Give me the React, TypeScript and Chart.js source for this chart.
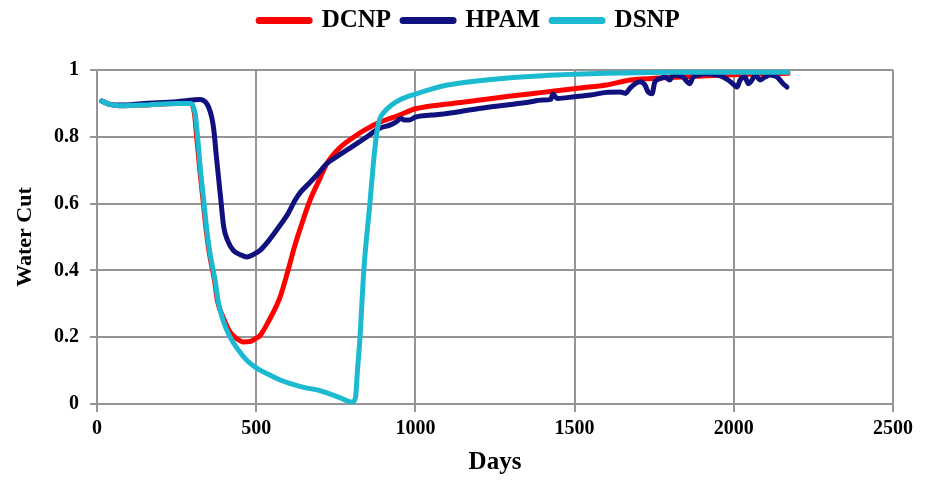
import React, { useEffect, useRef } from "react";
import { Chart, registerables } from "chart.js";

Chart.register(...registerables);

const FONT = "'Liberation Serif', 'Times New Roman', serif";

const seriesNames = ["DCNP", "HPAM", "DSNP"];
const seriesColors = ["#ff0000", "#10107f", "#1bbad1"];

const xTickLabels = ["0", "500", "1000", "1500", "2000", "2500"];
const yTickLabels = ["0", "0.2", "0.4", "0.6", "0.8", "1"];

const dcnpDays = [15, 40, 70, 150, 250, 295, 306, 313, 323, 333, 343, 353, 369, 378, 396, 418, 440, 458, 480, 500, 512, 540, 575, 600, 620, 640, 669, 700, 722, 760, 800, 840, 889, 950, 1000, 1100, 1203, 1300, 1400, 1517, 1600, 1674, 1750, 1850, 1950, 2050, 2170];
const dcnpCut = [0.907, 0.897, 0.893, 0.895, 0.9, 0.9, 0.87, 0.8, 0.7, 0.61, 0.52, 0.45, 0.37, 0.31, 0.26, 0.215, 0.195, 0.186, 0.187, 0.197, 0.205, 0.25, 0.32, 0.4, 0.47, 0.53, 0.61, 0.675, 0.72, 0.765, 0.795, 0.82, 0.844, 0.865, 0.884, 0.898, 0.91, 0.922, 0.933, 0.946, 0.955, 0.97, 0.975, 0.98, 0.984, 0.987, 0.99];

const hpamDays = [15, 40, 70, 150, 250, 300, 325, 340, 350, 360, 367, 375, 388, 398, 410, 428, 450, 471, 490, 512, 540, 575, 600, 622, 640, 660, 690, 722, 760, 800, 840, 889, 920, 940, 955, 965, 980, 1000, 1050, 1100, 1200, 1300, 1350, 1400, 1425, 1432, 1445, 1500, 1550, 1600, 1643, 1660, 1674, 1705, 1721, 1731, 1743, 1752, 1768, 1784, 1799, 1809, 1840, 1862, 1872, 1888, 1916, 1947, 1966, 1982, 1997, 2010, 2020, 2035, 2045, 2057, 2067, 2082, 2098, 2114, 2136, 2155, 2167];
const hpamCut = [0.907, 0.897, 0.895, 0.9, 0.905, 0.91, 0.912, 0.905, 0.89, 0.86, 0.82, 0.74, 0.62, 0.53, 0.49, 0.46, 0.447, 0.44, 0.447, 0.46, 0.49, 0.535, 0.57, 0.61, 0.635, 0.655, 0.685, 0.72, 0.745, 0.77, 0.795, 0.826, 0.835, 0.845, 0.855, 0.85, 0.85, 0.859, 0.865, 0.87, 0.885, 0.897, 0.903, 0.91, 0.912, 0.928, 0.915, 0.92, 0.925, 0.933, 0.934, 0.93, 0.946, 0.965, 0.955, 0.934, 0.929, 0.964, 0.974, 0.979, 0.97, 0.985, 0.979, 0.959, 0.979, 0.985, 0.989, 0.985, 0.979, 0.97, 0.959, 0.949, 0.97, 0.979, 0.959, 0.97, 0.985, 0.97, 0.979, 0.985, 0.979, 0.959, 0.949];

const dsnpDays = [15, 40, 70, 150, 250, 295, 308, 315, 325, 335, 345, 355, 371, 380, 396, 418, 445, 471, 500, 540, 575, 640, 700, 722, 765, 790, 802, 812, 818, 826, 838, 857, 868, 877, 887, 900, 925, 950, 1000, 1050, 1100, 1200, 1300, 1400, 1500, 1600, 1700, 1800, 1900, 2000, 2100, 2170];
const dsnpCut = [0.907, 0.897, 0.893, 0.895, 0.9, 0.9, 0.87, 0.81, 0.7, 0.61, 0.52, 0.45, 0.37, 0.31, 0.25, 0.2, 0.16, 0.13, 0.108, 0.088, 0.072, 0.052, 0.04, 0.033, 0.018, 0.008, 0.006, 0.02, 0.1, 0.2, 0.4, 0.6, 0.72, 0.8, 0.85, 0.872, 0.895, 0.91, 0.928, 0.943, 0.955, 0.968, 0.977, 0.983, 0.987, 0.99, 0.992, 0.993, 0.993, 0.993, 0.993, 0.993];

const GRID = "#959595";

export default function App() {
  const ref = useRef<HTMLCanvasElement>(null);

  useEffect(() => {
    const pts = (xs: number[], ys: number[]) => xs.map((x, i) => ({ x, y: ys[i] }));
    const all = [
      pts(dcnpDays, dcnpCut),
      pts(hpamDays, hpamCut),
      pts(dsnpDays, dsnpCut),
    ];
    const orders = [2, 1, 0];
    const chart = new Chart(ref.current as HTMLCanvasElement, {
      type: "line",
      data: {
        datasets: all.map((d, i) => ({
          label: seriesNames[i],
          data: d,
          borderColor: seriesColors[i],
          backgroundColor: seriesColors[i],
          borderWidth: 5,
          pointRadius: 0,
          pointHoverRadius: 0,
          cubicInterpolationMode: "monotone",
          borderCapStyle: "round",
          borderJoinStyle: "round",
          order: orders[i],
          clip: 4,
        })),
      },
      options: {
        responsive: false,
        animation: false,
        devicePixelRatio: 1,
        layout: { padding: { top: -4, left: 46, right: 37, bottom: 0 } },
        plugins: {
          tooltip: { enabled: false },
          legend: {
            position: "top",
            labels: {
              usePointStyle: true,
              pointStyle: "line",
              pointStyleWidth: 50,
              padding: 12,
              color: "#000",
              font: { family: FONT, size: 25, weight: "bold" },
              sort: (a: any, b: any) => a.datasetIndex - b.datasetIndex,
              generateLabels: (c: any) =>
                (Chart.defaults.plugins.legend.labels as any)
                  .generateLabels(c)
                  .map((it: any) => ({ ...it, lineWidth: 7, lineCap: "round", pointStyle: "line" })),
            },
          },
          title: {
            display: true,
            text: " ",
            weight: 500,
            font: { size: 10 },
            padding: { top: 0, bottom: 15 },
          } as any,
        },
        scales: {
          x: {
            type: "linear",
            min: 0,
            max: 2500,
            afterFit: (s: any) => {
              s.height = 79;
            },
            ticks: {
              stepSize: 500,
              color: "#000",
              padding: 5,
              font: { family: FONT, size: 20, weight: "bold" },
              callback: (_v: any, i: number) => xTickLabels[i],
            },
            grid: { color: GRID, lineWidth: 2, tickLength: 8 },
            border: { color: GRID, width: 2 },
            title: {
              display: true,
              text: "Days",
              color: "#000",
              font: { family: FONT, size: 25, weight: "bold" },
              padding: { top: 0, bottom: 5 },
            },
          },
          y: {
            type: "linear",
            min: 0,
            max: 1,
            afterFit: (s: any) => {
              s.width = 51;
            },
            ticks: {
              stepSize: 0.2,
              color: "#000",
              padding: 11,
              font: { family: FONT, size: 20, weight: "bold" },
              callback: (_v: any, i: number) => yTickLabels[i],
            },
            grid: { color: GRID, lineWidth: 2, tickLength: 7 },
            border: { color: GRID, width: 2 },
            title: {
              display: true,
              text: "Water Cut",
              color: "#000",
              font: { family: FONT, size: 22, weight: "bold" },
              padding: { top: -34.2, bottom: 0 },
            },
          },
        },
      } as any,
    });
    return () => chart.destroy();
  }, []);

  return (
    <div style={{ position: "fixed", left: 0, top: 0, width: 930, height: 483, background: "#fff" }}>
      <canvas ref={ref} width={930} height={483} style={{ display: "block" }} />
    </div>
  );
}
